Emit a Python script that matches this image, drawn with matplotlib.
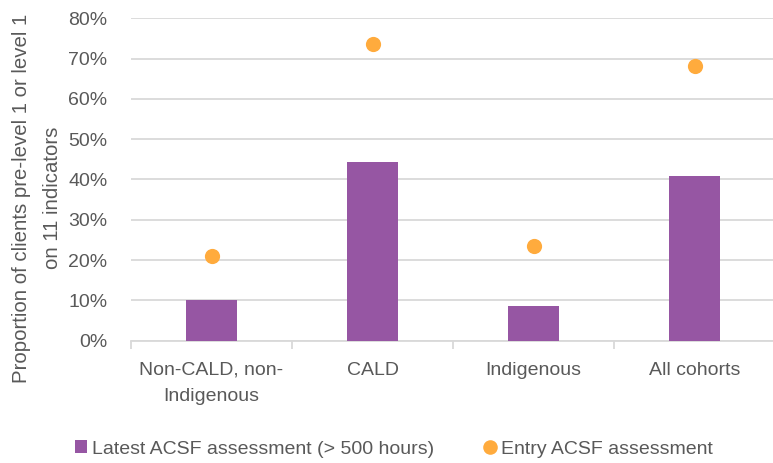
import matplotlib
matplotlib.use("Agg")
import matplotlib.pyplot as plt
from matplotlib.lines import Line2D
from matplotlib.patches import Patch
from matplotlib.ticker import FixedLocator, PercentFormatter

plt.rcParams['font.family'] = ['Liberation Sans', 'DejaVu Sans']

categories = ["Non-CALD, non-\nIndigenous", "CALD", "Indigenous", "All cohorts"]
latest = [10.2, 44.4, 8.6, 40.8]
entry = [21.0, 73.7, 23.5, 68.1]
yticks = [0, 10, 20, 30, 40, 50, 60, 70, 80]

purple = "#9656A3"
orange = "#FFAB3D"
grid_c = "#D9D9D9"
text_c = "#595959"

fig = plt.figure(figsize=(7.73, 4.63), dpi=100)
ax = fig.add_axes([131 / 773, 0.2642, 644 / 773, 0.6963])

x = list(range(len(categories)))
ax.bar(x, latest, width=0.317, color=purple, zorder=3)
ax.scatter(x, entry, s=120, color=orange, zorder=4, linewidths=0)

ax.set_xlim(-0.5, len(categories) - 0.5)
ax.set_ylim(0, 80)
ax.yaxis.set_major_locator(FixedLocator(yticks))
ax.yaxis.set_major_formatter(PercentFormatter(decimals=0))
ax.grid(axis='y', color=grid_c, linewidth=1.3, zorder=0)

ax.set_xticks(x)
ax.set_xticklabels(categories)
ax.set_xticks([i - 0.5 for i in range(len(categories) + 1)], minor=True)
ax.tick_params(axis='x', which='major', length=0, pad=15, labelsize=14, labelcolor=text_c)
ax.tick_params(axis='x', which='minor', length=6, width=1.3, color=grid_c)
ax.tick_params(axis='y', length=0, pad=17, labelsize=14, labelcolor=text_c)
for lbl in ax.get_xticklabels():
    lbl.set_linespacing(1.75)

for side in ('top', 'right', 'left'):
    ax.spines[side].set_visible(False)
ax.spines['bottom'].set_color(grid_c)
ax.spines['bottom'].set_linewidth(1.3)

fig.text(37 / 773, 1 - 198 / 463,
         "Proportion of clients pre-level 1 or level 1\non 11 indicators",
         rotation=90, ha='center', va='center', fontsize=14.7, color=text_c,
         linespacing=1.85)

handles = [
    Patch(facecolor=purple, edgecolor='none'),
    Line2D([], [], marker='o', linestyle='none', markersize=10.5,
           markerfacecolor=orange, markeredgewidth=0),
]
labels = ["Latest ACSF assessment (> 500 hours)", "Entry ACSF assessment"]
fig.legend(handles, labels, loc='center', bbox_to_anchor=(394 / 773, 14 / 463),
           ncol=2, frameon=False, fontsize=14, labelcolor=text_c,
           handlelength=0.65, handleheight=0.65, handletextpad=0.25,
           columnspacing=2.55)

fig.savefig("out.png", dpi=100)
